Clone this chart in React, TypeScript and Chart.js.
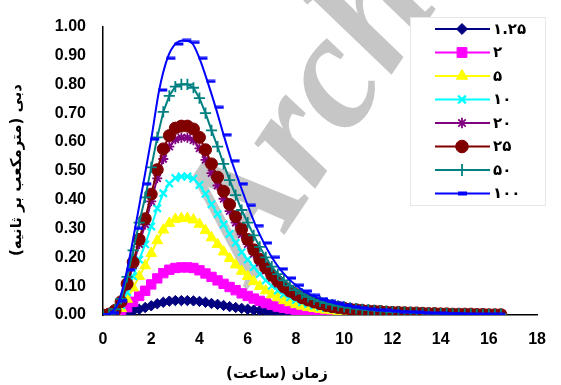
import { useEffect, useRef } from "react";
import { Chart, registerables } from "chart.js";
import { drawPoint } from "chart.js/helpers";

Chart.register(...registerables);

// Time axis (hours) for the hydrographs sampled every 15 minutes
const hours = [
  0, 0.25, 0.5, 0.75, 1, 1.25, 1.5, 1.75, 2, 2.25,
  2.5, 2.75, 3, 3.25, 3.5, 3.75, 4, 4.25, 4.5, 4.75,
  5, 5.25, 5.5, 5.75, 6, 6.25, 6.5, 6.75, 7, 7.25,
  7.5, 7.75, 8, 8.25, 8.5, 8.75, 9, 9.25, 9.5, 9.75,
  10, 10.25, 10.5, 10.75, 11, 11.25, 11.5, 11.75, 12, 12.25,
  12.5, 12.75, 13, 13.25, 13.5, 13.75, 14, 14.25, 14.5, 14.75,
  15, 15.25, 15.5, 15.75, 16, 16.25, 16.5,
];

// Time axis (hours) for the 100-year hydrograph, sampled every 20 minutes
const hours100 = [
  0, 0.33, 0.67, 1, 1.33, 1.67, 2, 2.33, 2.67, 3,
  3.33, 3.67, 4, 4.33, 4.67, 5, 5.33, 5.67, 6, 6.33,
  6.67, 7, 7.33, 7.67, 8, 8.33, 8.67, 9, 9.33, 9.67,
  10, 10.33, 10.67, 11, 11.33, 11.67, 12, 12.33, 12.67, 13,
  13.33, 13.67, 14, 14.33, 14.67, 15, 15.33, 15.67, 16, 16.33,
];

// Discharge (m³/s) per return period
const q1_25 = [
  0, 0.0, 0.001, 0.004, 0.008, 0.014, 0.02, 0.026, 0.032, 0.039,
  0.044, 0.048, 0.05, 0.05, 0.05, 0.049, 0.047, 0.044, 0.04, 0.037,
  0.033, 0.029, 0.026, 0.023, 0.02, 0.017, 0.015, 0.013, 0.011, 0.009,
  0.008, 0.006, 0.005, 0.005, 0.004, 0.003, 0.003, 0.003, 0.002, 0.002,
  0.002, 0.002, 0.001, 0.001, 0.001, 0.001, 0.001, 0.001, 0.001, 0.001,
  0.001, 0.001, 0.001, 0, 0, 0, 0, 0, 0, 0,
  0, 0, 0, 0, 0, 0, 0,
];
const q2 = [
  0, 0.001, 0.004, 0.012, 0.027, 0.046, 0.066, 0.084, 0.106, 0.127,
  0.145, 0.157, 0.163, 0.165, 0.165, 0.163, 0.155, 0.144, 0.132, 0.12,
  0.108, 0.097, 0.086, 0.075, 0.066, 0.057, 0.049, 0.041, 0.035, 0.029,
  0.025, 0.021, 0.018, 0.015, 0.013, 0.011, 0.01, 0.008, 0.007, 0.007,
  0.006, 0.005, 0.005, 0.004, 0.004, 0.003, 0.003, 0.003, 0.002, 0.002,
  0.002, 0.002, 0.002, 0.001, 0.001, 0.001, 0.001, 0.001, 0.001, 0.001,
  0.001, 0.001, 0, 0, 0, 0, 0,
];
const q5 = [
  0, 0.002, 0.008, 0.023, 0.055, 0.094, 0.134, 0.171, 0.214, 0.258,
  0.295, 0.318, 0.332, 0.335, 0.335, 0.33, 0.315, 0.293, 0.268, 0.245,
  0.219, 0.196, 0.174, 0.152, 0.134, 0.116, 0.099, 0.084, 0.07, 0.06,
  0.05, 0.043, 0.036, 0.031, 0.026, 0.023, 0.02, 0.017, 0.015, 0.013,
  0.012, 0.01, 0.009, 0.008, 0.007, 0.007, 0.006, 0.005, 0.005, 0.004,
  0.004, 0.004, 0.003, 0.003, 0.003, 0.002, 0.002, 0.002, 0.002, 0.002,
  0.001, 0.001, 0.001, 0.001, 0.001, 0.001, 0.001,
];
const q10 = [
  0, 0.002, 0.012, 0.034, 0.079, 0.134, 0.192, 0.245, 0.307, 0.37,
  0.422, 0.456, 0.475, 0.48, 0.48, 0.473, 0.451, 0.42, 0.384, 0.35,
  0.314, 0.281, 0.25, 0.218, 0.192, 0.166, 0.142, 0.12, 0.101, 0.085,
  0.072, 0.061, 0.052, 0.044, 0.038, 0.033, 0.028, 0.024, 0.022, 0.019,
  0.017, 0.015, 0.013, 0.012, 0.011, 0.01, 0.009, 0.008, 0.007, 0.006,
  0.006, 0.005, 0.005, 0.004, 0.004, 0.003, 0.003, 0.003, 0.002, 0.002,
  0.002, 0.002, 0.001, 0.001, 0.001, 0.001, 0.001,
];
const q20 = [
  0, 0.003, 0.015, 0.043, 0.101, 0.172, 0.246, 0.314, 0.394, 0.474,
  0.541, 0.584, 0.609, 0.615, 0.615, 0.606, 0.578, 0.538, 0.492, 0.449,
  0.403, 0.36, 0.32, 0.28, 0.246, 0.212, 0.181, 0.154, 0.129, 0.109,
  0.092, 0.078, 0.066, 0.057, 0.049, 0.042, 0.036, 0.031, 0.028, 0.025,
  0.022, 0.019, 0.017, 0.015, 0.014, 0.012, 0.011, 0.01, 0.009, 0.008,
  0.007, 0.007, 0.006, 0.006, 0.005, 0.004, 0.004, 0.004, 0.003, 0.003,
  0.002, 0.002, 0.002, 0.002, 0.001, 0.001, 0.001,
];
const q25 = [
  0, 0.003, 0.016, 0.046, 0.108, 0.183, 0.262, 0.334, 0.419, 0.504,
  0.576, 0.622, 0.648, 0.655, 0.655, 0.645, 0.616, 0.573, 0.524, 0.478,
  0.429, 0.383, 0.341, 0.298, 0.262, 0.226, 0.193, 0.164, 0.138, 0.117,
  0.098, 0.083, 0.071, 0.06, 0.052, 0.045, 0.039, 0.033, 0.029, 0.026,
  0.023, 0.02, 0.018, 0.016, 0.014, 0.013, 0.012, 0.01, 0.009, 0.009,
  0.008, 0.007, 0.007, 0.006, 0.005, 0.005, 0.004, 0.004, 0.003, 0.003,
  0.003, 0.003, 0.002, 0.002, 0.001, 0.001, 0.001,
];
const q50 = [
  0, 0.004, 0.02, 0.056, 0.132, 0.224, 0.32, 0.408, 0.512, 0.616,
  0.704, 0.76, 0.792, 0.8, 0.8, 0.788, 0.752, 0.7, 0.64, 0.584,
  0.524, 0.468, 0.416, 0.364, 0.32, 0.276, 0.236, 0.2, 0.168, 0.142,
  0.12, 0.102, 0.086, 0.074, 0.063, 0.054, 0.047, 0.041, 0.036, 0.032,
  0.028, 0.025, 0.022, 0.02, 0.018, 0.016, 0.014, 0.013, 0.011, 0.01,
  0.01, 0.009, 0.008, 0.007, 0.006, 0.006, 0.005, 0.005, 0.004, 0.004,
  0.003, 0.003, 0.002, 0.002, 0.002, 0.002, 0.002,
];
const q100 = [
  0, 0.008, 0.05, 0.157, 0.3, 0.455, 0.61, 0.78, 0.89, 0.94,
  0.952, 0.945, 0.89, 0.81, 0.72, 0.625, 0.535, 0.455, 0.38, 0.31,
  0.25, 0.2, 0.16, 0.128, 0.103, 0.083, 0.068, 0.056, 0.047, 0.04,
  0.034, 0.029, 0.025, 0.021, 0.018, 0.016, 0.014, 0.012, 0.011, 0.009,
  0.008, 0.007, 0.006, 0.005, 0.005, 0.004, 0.003, 0.003, 0.002, 0.002,
];

// Return-period labels (years)
const seriesLabels = ["۱.۲۵", "۲", "۵", "۱۰", "۲۰", "۲۵", "۵۰", "۱۰۰"];

const xTitle = "زمان (ساعت)";
const yTitle = "دبی (مترمکعب بر ثانیه)";
const watermarkText = "Archive";

const BOLD_FONT = "'Liberation Sans', Arial, sans-serif";
const FA_FONT = "'DejaVu Sans', sans-serif";

// small horizontal dash used as the marker of the 100-year series
function makeDash(color: string) {
  const c = document.createElement("canvas");
  c.width = 18;
  c.height = 4;
  const g = c.getContext("2d")!;
  g.fillStyle = color;
  g.fillRect(8, 0.5, 9, 3);
  return c;
}

type Style = {
  color: string;
  pointStyle: any;
  radius: number;
  borderWidth: number;
};

function buildDatasets() {
  const dash = makeDash("#0000FF");
  const styles: Style[] = [
    { color: "#000080", pointStyle: "rectRot", radius: 5.2, borderWidth: 1 },
    { color: "#FF00FF", pointStyle: "rect", radius: 6.6, borderWidth: 1 },
    { color: "#FFFF00", pointStyle: "triangle", radius: 6.2, borderWidth: 1 },
    { color: "#00FFFF", pointStyle: "crossRot", radius: 5.2, borderWidth: 2.2 },
    { color: "#800080", pointStyle: "star", radius: 5, borderWidth: 1.8 },
    { color: "#800000", pointStyle: "circle", radius: 6, borderWidth: 1 },
    { color: "#008080", pointStyle: "cross", radius: 5.6, borderWidth: 1.8 },
    { color: "#0000FF", pointStyle: dash, radius: 4, borderWidth: 1 },
  ];
  const series = [q1_25, q2, q5, q10, q20, q25, q50];
  const sets: any[] = series.map((vals, k) => ({
    label: seriesLabels[k],
    data: hours.map((h, i) => ({ x: h, y: vals[i] })),
    borderColor: styles[k].color,
    backgroundColor: styles[k].color,
    borderWidth: 2,
    pointStyle: styles[k].pointStyle,
    pointRadius: styles[k].radius,
    pointBorderWidth: styles[k].borderWidth,
    pointBackgroundColor: styles[k].color,
    pointBorderColor: styles[k].color,
    tension: 0,
    order: 8 - k,
  }));
  sets.push({
    label: seriesLabels[7],
    data: hours100.map((h, i) => ({ x: h, y: q100[i] })),
    borderColor: styles[7].color,
    backgroundColor: styles[7].color,
    borderWidth: 2,
    pointStyle: dash,
    pointRadius: 4,
    cubicInterpolationMode: "monotone",
    order: 1,
  });
  return { sets, styles };
}

export default function App() {
  const ref = useRef<HTMLCanvasElement | null>(null);

  useEffect(() => {
    document.body.style.margin = "0";
    const canvas = ref.current;
    if (!canvas) return;
    const { sets, styles } = buildDatasets();

    const decorations = {
      id: "decorations",
      beforeDatasetsDraw(chart: any) {
        const ctx = chart.ctx as CanvasRenderingContext2D;
        ctx.save();
        ctx.translate(252, 283);
        ctx.rotate(-0.98);
        ctx.fillStyle = "#c6c6c6";
        ctx.font = "italic bold 165px 'Liberation Serif', serif";
        ctx.textAlign = "left";
        ctx.textBaseline = "alphabetic";
        ctx.fillText(watermarkText, 0, 0);
        ctx.restore();
      },
      afterDraw(chart: any) {
        const ctx = chart.ctx as CanvasRenderingContext2D;
        ctx.save();
        // legend box
        ctx.fillStyle = "#ffffff";
        ctx.strokeStyle = "#e8e8e8";
        ctx.lineWidth = 1;
        ctx.fillRect(410, 17, 135, 188);
        ctx.strokeRect(410.5, 17.5, 135, 188);
        for (let k = 0; k < 8; k++) {
          const y = 29 + k * 23.5;
          const st = styles[k];
          ctx.strokeStyle = st.color;
          ctx.fillStyle = st.color;
          ctx.lineWidth = 2;
          ctx.beginPath();
          ctx.moveTo(435, y);
          ctx.lineTo(490, y);
          ctx.stroke();
          if (k === 7) {
            ctx.fillRect(458, y - 2, 9, 4);
          } else {
            ctx.lineWidth = st.borderWidth;
            drawPoint(
              ctx,
              {
                pointStyle: st.pointStyle,
                radius: st.radius * 1.05,
                rotation: 0,
                borderWidth: st.borderWidth,
              } as any,
              462,
              y
            );
          }
          ctx.fillStyle = "#000000";
          ctx.font = `bold 15px ${FA_FONT}`;
          ctx.textAlign = "left";
          ctx.textBaseline = "middle";
          ctx.direction = "ltr";
          ctx.fillText(seriesLabels[k], 493, y + 1);
        }
        // axis titles
        ctx.fillStyle = "#000000";
        ctx.font = `bold 15px ${FA_FONT}`;
        ctx.textAlign = "center";
        ctx.textBaseline = "middle";
        ctx.direction = "rtl";
        ctx.fillText(xTitle, 277, 374);
        ctx.translate(17, 170);
        ctx.rotate(-Math.PI / 2);
        ctx.fillText(yTitle, 0, 0);
        ctx.restore();
      },
    };

    const chart = new Chart(canvas, {
      type: "line",
      data: { datasets: sets },
      options: {
        animation: false,
        responsive: false,
        maintainAspectRatio: false,
        layout: { padding: { left: 0, right: 9, top: 24, bottom: 0 } },
        plugins: {
          legend: { display: false },
          tooltip: { enabled: false },
        },
        scales: {
          x: {
            type: "linear",
            min: 0,
            max: 18,
            grid: { display: false, drawTicks: false },
            border: { display: true, color: "#000000", width: 1.5 },
            ticks: {
              stepSize: 2,
              padding: 15,
              color: "#000000",
              font: { family: BOLD_FONT, size: 16, weight: "bold" },
              maxRotation: 0,
            },
            afterFit(scale: any) {
              scale.height = 70;
            },
          },
          y: {
            min: 0,
            max: 1,
            grid: { display: false, drawTicks: false },
            border: { display: true, color: "#000000", width: 1.5 },
            ticks: {
              stepSize: 0.1,
              padding: 17,
              color: "#000000",
              font: { family: BOLD_FONT, size: 16, weight: "bold" },
              callback: (v: any) => Number(v).toFixed(2),
            },
            afterFit(scale: any) {
              scale.width = 103;
            },
          },
        },
      },
      plugins: [decorations],
    });
    return () => chart.destroy();
  }, []);

  return (
    <div style={{ width: 561, height: 385, background: "#ffffff" }}>
      <canvas ref={ref} width={561} height={385} />
    </div>
  );
}
